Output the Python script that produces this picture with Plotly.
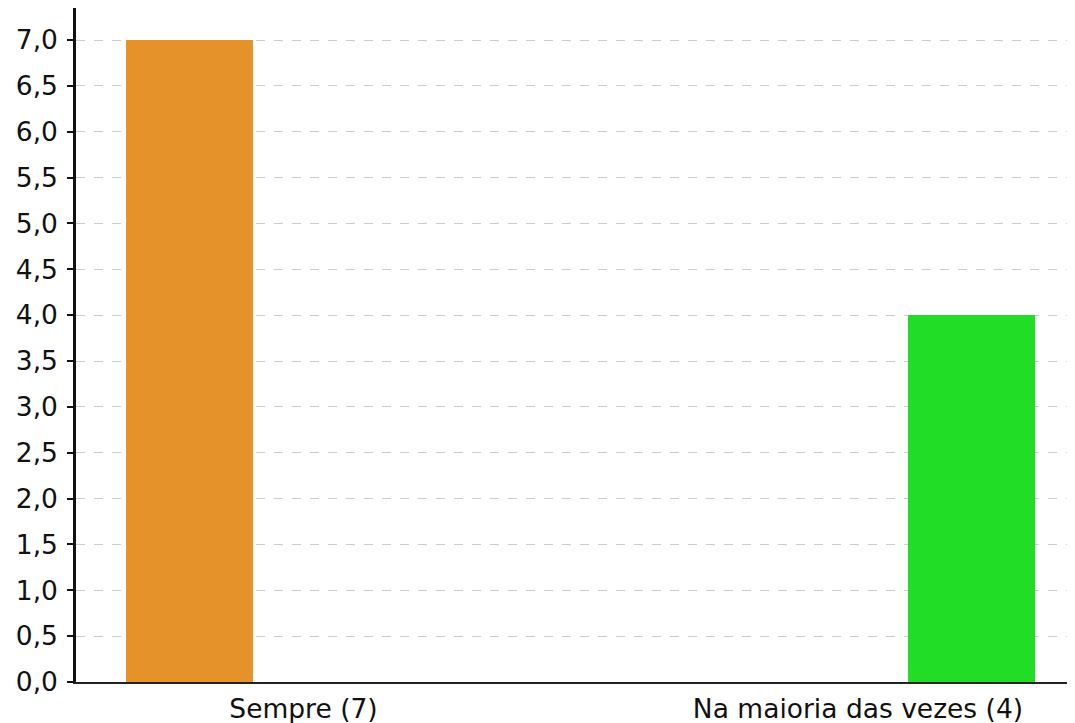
import plotly.graph_objects as go

categories = ["Sempre (7)", "Na maioria das vezes (4)"]
values = [7, 4]
colors = ["#E5922A", "#22DD26"]

bar_width = 0.229
bar_offsets = [-0.32, 0.09]

fig = go.Figure()
fig.add_trace(go.Bar(
    x=categories, y=values,
    width=bar_width, offset=bar_offsets,
    marker=dict(color=colors, line=dict(width=0)),
    showlegend=False,
))

fig.update_layout(
    width=1075, height=723,
    margin=dict(l=68, r=0, t=0, b=49, autoexpand=False),
    plot_bgcolor="white", paper_bgcolor="white",
    separators=",.",
    font=dict(family="DejaVu Sans", size=26.5, color="#111111"),
    xaxis=dict(
        type="category",
        range=[-0.4103, 1.4058],
        showgrid=False,
        showline=True, linecolor="#222222", linewidth=1.5,
        ticks="", tickfont=dict(size=26.5),
        ticklabelstandoff=2,
        zeroline=False,
    ),
    yaxis=dict(
        range=[0, 7.349],
        dtick=0.5, tick0=0, tickformat=".1f",
        showgrid=True, gridcolor="#cccccc", griddash="dash", gridwidth=1,
        showline=True, linecolor="#111111", linewidth=2.5,
        ticks="outside", ticklen=6, tickwidth=2, tickcolor="#111111",
        ticklabelstandoff=4,
        zeroline=False,
        tickfont=dict(size=26.5),
    ),
    bargap=0,
)

fig.write_html("out.html")
